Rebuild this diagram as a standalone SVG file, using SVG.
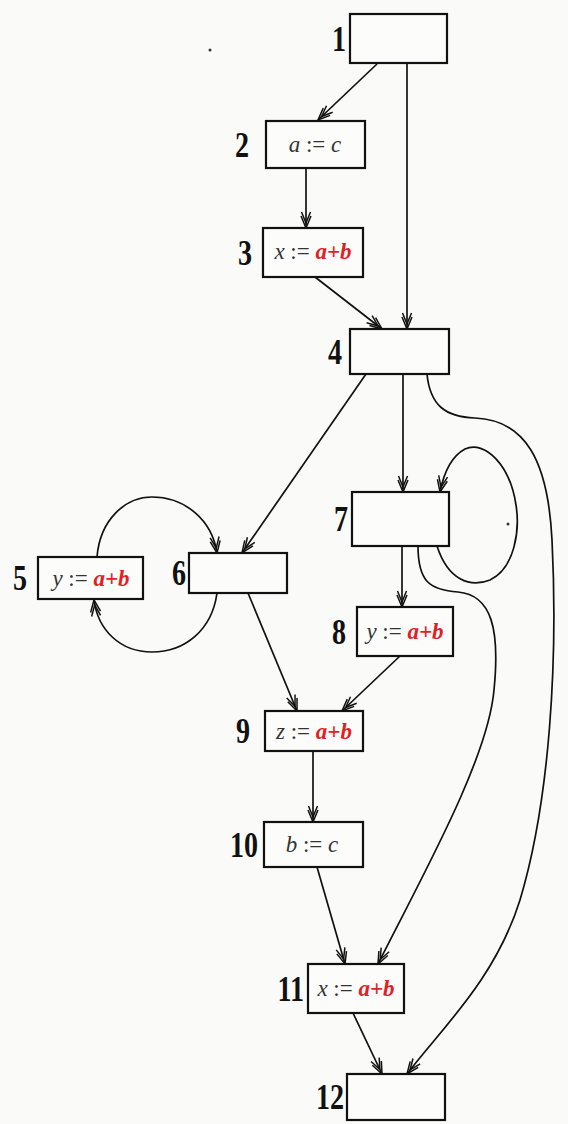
<svg xmlns="http://www.w3.org/2000/svg" width="568" height="1124" viewBox="0 0 568 1124">
  <defs>
    <marker id="arr" markerUnits="userSpaceOnUse" markerWidth="20" markerHeight="20" viewBox="-18 -8 20 16" refX="0" refY="0" orient="auto" overflow="visible">
      <path d="M-12,-5 L0,0 L-12,5 M-16,-4.5 L-5,0 L-16,4.5" fill="none" stroke="#111" stroke-width="1.5"/>
    </marker>
  </defs>
  <style>
    .box { fill: #fcfcfb; stroke: #111; stroke-width: 2.2; }
    .num { font-family: "Liberation Serif", serif; font-weight: bold; font-size: 36px; fill: #111; text-anchor: end; }
    .stmt { font-family: "Liberation Serif", serif; font-size: 23px; fill: #333; text-anchor: middle; }
    .v { font-style: italic; }
    .e { fill: #e21f26; font-weight: bold; font-style: italic; }
    .edge { fill: none; stroke: #111; stroke-width: 1.7; marker-end: url(#arr); }
  </style>
  <rect width="568" height="1124" fill="#fafaf8"/>

  <g id="connectors">
    <path class="edge" d="M377,64 L318,120"/>
    <path class="edge" d="M407,63 L407,329"/>
    <path class="edge" d="M306,168 L306,228"/>
    <path class="edge" d="M315,277 L382,329"/>
    <path class="edge" d="M366,374 L242,553"/>
    <path class="edge" d="M403,374 L403,492"/>
    <path class="edge" d="M427,374 C430,405 445,417 475,418 C525,420 548,460 552,540 C558,660 550,800 520,900 C495,980 440,1030 407,1074"/>
    <path class="edge" d="M437,546 C448,580 470,588 490,580 C515,568 520,530 516,505 C510,465 485,440 465,449 C452,456 444,472 440,492"/>
    <path class="edge" d="M402,546 L402,607"/>
    <path class="edge" d="M418,546 C418,582 430,590 458,592 C492,595 500,630 494,690 C488,760 420,880 378,964"/>
    <path class="edge" d="M400,656 L342,711"/>
    <path class="edge" d="M248,593 L297,711"/>
    <path class="edge" d="M97,557 C100,520 125,497 152,497 C185,497 212,520 217,553"/>
    <path class="edge" d="M217,593 C212,630 185,652 152,652 C120,652 98,630 94,600"/>
    <path class="edge" d="M313,751 L313,822"/>
    <path class="edge" d="M317,867 L345,964"/>
    <path class="edge" d="M353,1013 L382,1074"/>
  </g>

  <g id="node1">
    <rect class="box" x="350" y="14" width="97" height="49"/>
    <text class="num" transform="translate(346,51) scale(0.78,1)">1</text>
  </g>
  <g id="node2">
    <rect class="box" x="266" y="121" width="99" height="47"/>
    <text class="num" transform="translate(249,157) scale(0.78,1)">2</text>
    <text class="stmt" x="315" y="152"><tspan class="v">a</tspan> := <tspan class="v">c</tspan></text>
  </g>
  <g id="node3">
    <rect class="box" x="263" y="228" width="100" height="49"/>
    <text class="num" transform="translate(252,265) scale(0.78,1)">3</text>
    <text class="stmt" x="313" y="259"><tspan class="v">x</tspan> := <tspan class="e">a+b</tspan></text>
  </g>
  <g id="node4">
    <rect class="box" x="350" y="329" width="99" height="45"/>
    <text class="num" transform="translate(342,364) scale(0.78,1)">4</text>
  </g>
  <g id="node5">
    <rect class="box" x="38" y="557" width="105" height="42"/>
    <text class="num" transform="translate(27,590) scale(0.78,1)">5</text>
    <text class="stmt" x="91" y="586"><tspan class="v">y</tspan> := <tspan class="e">a+b</tspan></text>
  </g>
  <g id="node6">
    <rect class="box" x="189" y="553" width="98" height="40"/>
    <text class="num" transform="translate(186,585) scale(0.78,1)">6</text>
  </g>
  <g id="node7">
    <rect class="box" x="352" y="492" width="97" height="54"/>
    <text class="num" transform="translate(348,531) scale(0.78,1)">7</text>
  </g>
  <g id="node8">
    <rect class="box" x="357" y="607" width="96" height="49"/>
    <text class="num" transform="translate(346,644) scale(0.78,1)">8</text>
    <text class="stmt" x="405" y="639"><tspan class="v">y</tspan> := <tspan class="e">a+b</tspan></text>
  </g>
  <g id="node9">
    <rect class="box" x="265" y="711" width="98" height="40"/>
    <text class="num" transform="translate(250,743) scale(0.78,1)">9</text>
    <text class="stmt" x="314" y="739"><tspan class="v">z</tspan> := <tspan class="e">a+b</tspan></text>
  </g>
  <g id="node10">
    <rect class="box" x="264" y="822" width="99" height="45"/>
    <text class="num" transform="translate(258,857) scale(0.78,1)">10</text>
    <text class="stmt" x="312" y="852"><tspan class="v">b</tspan> := <tspan class="v">c</tspan></text>
  </g>
  <g id="node11">
    <rect class="box" x="308" y="964" width="96" height="49"/>
    <text class="num" transform="translate(304,1001) scale(0.78,1)">11</text>
    <text class="stmt" x="356" y="996"><tspan class="v">x</tspan> := <tspan class="e">a+b</tspan></text>
  </g>
  <g id="node12">
    <rect class="box" x="347" y="1074" width="98" height="46"/>
    <text class="num" transform="translate(344,1109) scale(0.78,1)">12</text>
  </g>

  <!-- stray specks -->
  <circle cx="210" cy="50" r="1.5" fill="#333"/>
  <circle cx="508" cy="524" r="1.5" fill="#333"/>
</svg>
